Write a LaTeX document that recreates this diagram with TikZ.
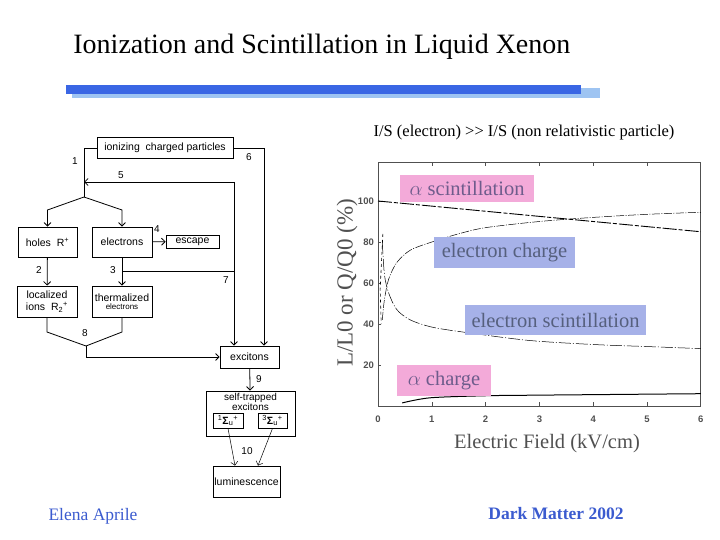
\documentclass[tikz,border=0pt]{standalone}
\usepackage{fontspec}
\setmainfont{Liberation Serif}
\setsansfont{Liberation Sans}
\usetikzlibrary{arrows.meta, positioning, calc}
\definecolor{barblue}{HTML}{3A66E4}
\definecolor{barlight}{HTML}{9EC4F2}
\definecolor{footblue}{HTML}{3B5BCF}
\definecolor{cpink}{HTML}{F3AAD9}
\definecolor{cblue}{HTML}{A6B1E8}
\definecolor{tpink}{HTML}{6E5C8C}
\definecolor{tblue}{HTML}{56607E}
\definecolor{cgrey}{HTML}{505050}
\tikzset{
  every picture/.style={line width=0.8pt},
  box/.style={draw, rectangle, inner sep=0.5pt, align=center, font=\sffamily\fontsize{10.5}{10}\selectfont},
  arrow/.style={-{Straight Barb[length=3.5pt, width=7pt]}},
  num/.style={font=\sffamily\fontsize{10}{10}\selectfont, inner sep=0pt},
  tag/.style={fill=#1, inner sep=0pt, font=\fontsize{20.5}{22}\selectfont},
  ticklbl/.style={font=\sffamily\bfseries\fontsize{9.5}{10}\selectfont, text=cgrey, inner sep=0pt},
}

\begin{document}
\begin{tikzpicture}[x=1pt, y=-1pt]
  \useasboundingbox (0,0) rectangle (720,540);

  % title
  \node[anchor=west, inner sep=0pt, font=\fontsize{28}{30}\selectfont] (title) at (73,47) {Ionization and Scintillation in Liquid Xenon};
  \fill[barlight] (72,88) rectangle (600,98);
  \fill[barblue] (66,85) rectangle (581,94);

  % flow chart boxes
  \node[box, minimum width=136pt, minimum height=21pt] (icp) at (165,148) {ionizing\ \ charged particles};
  \node[box, minimum width=59pt, minimum height=30pt] (holes) at (47.5,242) {holes\ \ R\textsuperscript{+}};
  \node[box, minimum width=60pt, minimum height=30pt] (elec) at (122,242) {electrons};
  \node[box, minimum width=53pt, minimum height=13pt] (esc) at (192.5,241.5) {escape};
  \node[box, minimum width=60pt, minimum height=31pt] (loc) at (47,301.5) {localized\\[2pt]ions\ \ R\textsubscript{2}\textsuperscript{+}};
  \node[box, minimum width=60pt, minimum height=31pt] (therm) at (122,301.5) {thermalized\\[-2pt]{\fontsize{8}{8}\selectfont electrons}};
  \node[box, minimum width=59pt, minimum height=22pt] (exc) at (249.5,357) {excitons};
  \node[box, minimum width=89pt, minimum height=45pt] (stx) at (250.5,413.5) {};
  \node[align=center, inner sep=0pt, font=\sffamily\fontsize{10}{8.5}\selectfont, anchor=north] (stxt) at ($(stx.north)+(0,2)$) {self-trapped\\excitons};
  \node[box, minimum width=30pt, minimum height=15pt] (s1) at (228,420.5) {\textsuperscript{1}\textbf{Σ}\textsubscript{u}\textsuperscript{+}};
  \node[box, minimum width=29pt, minimum height=15pt] (s3) at (272.5,420.5) {\textsuperscript{3}\textbf{Σ}\textsubscript{u}\textsuperscript{+}};
  \node[box, minimum width=67pt, minimum height=31pt] (lum) at (246.5,481.5) {luminescence};

  % flow chart lines
  \coordinate (fork) at (84,197);
  \coordinate (in5) at (84,182);
  \coordinate (r5) at (234,182);
  \coordinate (r6) at (264,148);
  \coordinate (r7) at (234,271);
  \coordinate (fl) at (47.5,210);
  \coordinate (fr) at (122,210);
  \coordinate (m8) at (86,346);
  \coordinate (b8) at (47,332);
  \coordinate (c8) at (122,332);
  \draw (icp.west) -| (fork);
  \draw[arrow] (fork) -- (fl) -- (holes.north);
  \draw[arrow] (fork) -- (fr) -- (elec.north);
  \draw[arrow] (r5) -- (in5);
  \draw[arrow] (r5) -- (r5 |- exc.north);
  \draw[arrow] (icp.east) -- (r6) -- (r6 |- exc.north);
  \draw (elec.south |- r7) -- (r7);
  \draw[arrow] (elec) -- (esc);
  \draw[arrow] (holes) -- (loc);
  \draw[arrow] (elec) -- (therm);
  \draw (loc.south) -- (b8) -- (m8) -- (c8) -- (therm.south);
  \draw[arrow] (m8) |- (exc.west);
  \draw[arrow] (exc) -- (stx);
  \draw[arrow, line width=0.5pt] (s1.south) -- ($(lum.north)+(-11.5,0)$);
  \draw[arrow, line width=0.5pt] (s3.south) -- ($(lum.north)+(11.5,0)$);

  % numbers
  \node[num] (n1) at (75,161) {1};
  \node[num] (n2) at (39,270) {2};
  \node[num] (n3) at (113,270) {3};
  \node[num] (n4) at (157,229) {4};
  \node[num] (n5) at (121,175) {5};
  \node[num] (n6) at (249,157) {6};
  \node[num] (n7) at (226,280) {7};
  \node[num] (n8) at (85,333) {8};
  \node[num] (n9) at (259,379) {9};
  \node[num] (n10) at (247,451) {10};

  % plot
  \node[inner sep=0pt, font=\fontsize{16.5}{18}\selectfont] (ratio) at (524,133) {I/S (electron) >{}> I/S (non relativistic particle)};
  \begin{scope}[shift={(378,406)}, x=53.8pt, y=2.05pt]
    \draw[cgrey, line width=1pt] (0,0) rectangle (6,119);
    \foreach \x in {1,...,5} {
      \draw[cgrey, line width=0.6pt] (\x,0) -- (\x,2);
      \draw[cgrey, line width=0.6pt] (\x,119) -- (\x,117);
    }
    \foreach \y in {20,40,...,100}
      \draw[cgrey, line width=0.6pt] (0,\y) -- (0.06,\y);
    \foreach \x in {0,...,6}
      \node[ticklbl] (xt\x) at (\x,-6.3) {\x};
    \foreach \y in {20,40,...,100}
      \node[ticklbl, anchor=east] (yt\y) at (-0.07,\y) {\y};
    % curves
    \draw[line width=0.9pt, dash pattern=on 14pt off 2pt on 4pt off 2pt] (0,100) -- (6,85);
    \draw[line width=0.5pt, dash pattern=on 8pt off 1.5pt on 1pt off 1.5pt] plot[smooth] coordinates {(0.08,42) (0.12,52) (0.2,62) (0.35,70) (0.6,76) (1,80) (1.5,84) (2,87) (3,90) (4,92) (5,93.5) (6,94.5)};
    \draw[line width=0.5pt, dash pattern=on 12pt off 2pt on 1pt off 2pt] plot[smooth] coordinates {(0.08,80) (0.12,64) (0.2,55) (0.35,47) (0.6,42) (1,38.5) (1.6,36) (2.8,32) (4,30) (5,29) (6,28)};
    \draw[line width=0.6pt, dashed] (0.09,84) -- (0.04,57) -- (0.06,40);
    \draw[line width=1pt] plot[smooth] coordinates {(0.45,1.5) (0.97,4) (2,5) (3,5.3) (6,6)};
  \end{scope}
  \node[tag=cpink, text=tpink, minimum width=134pt, minimum height=27pt] (as) at (467,188.5) {$\alpha$\ scintillation};
  \node[tag=cblue, text=tblue, minimum width=141pt, minimum height=31pt] (ec) at (504.5,252.5) {electron charge};
  \node[tag=cblue, text=tblue, minimum width=181pt, minimum height=30pt] (es) at (555.5,320) {electron scintillation};
  \node[tag=cpink, text=tpink, minimum width=94pt, minimum height=31pt] (ac) at (444,380.5) {$\alpha$\ charge};
  \node[rotate=90, inner sep=0pt, text=cgrey, font=\fontsize{23}{24}\selectfont] (ylab) at (347,283) {L/L0 or Q/Q0 (\%)};
  \node[inner sep=0pt, text=cgrey, font=\fontsize{20.5}{22}\selectfont] (xlab) at (547,444) {Electric Field (kV/cm)};

  % footer
  \node[inner sep=0pt, text=footblue, font=\fontsize{17.5}{18}\selectfont] (author) at (93,516) {Elena Aprile};
  \node[inner sep=0pt, text=footblue, font=\bfseries\fontsize{17.5}{18}\selectfont] (conf) at (556,514) {Dark Matter 2002};
\end{tikzpicture}
\end{document}
